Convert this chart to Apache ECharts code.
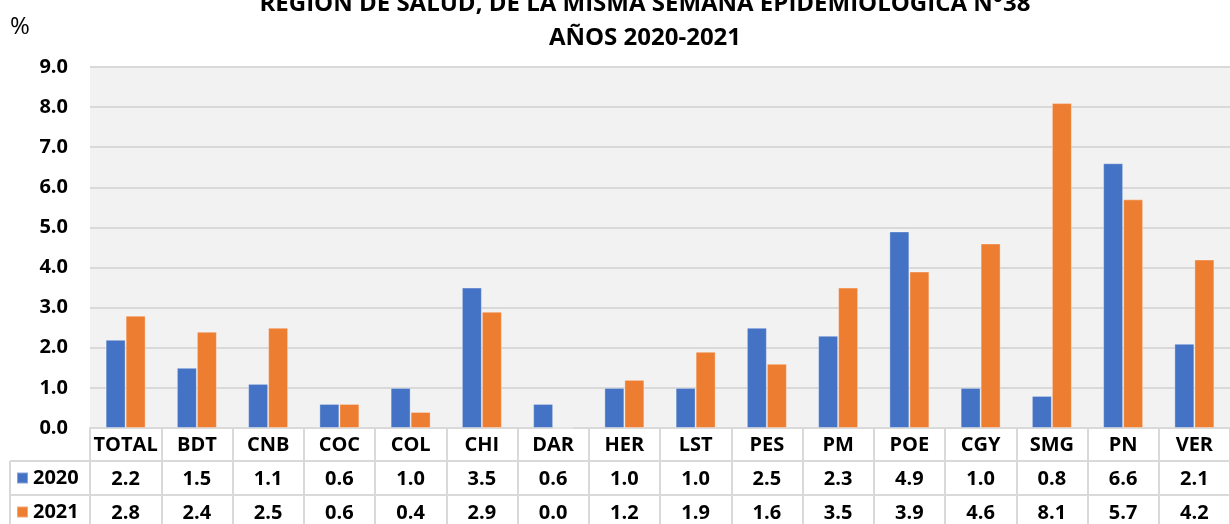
<!DOCTYPE html>
<html>
<head>
<meta charset="utf-8">
<script src="https://cdn.jsdelivr.net/npm/echarts@6/dist/echarts.min.js"></script>
<style>
  html, body { margin: 0; padding: 0; background: #fff; }
  #chart { width: 1230px; height: 524px; }
</style>
</head>
<body>
<div id="chart"></div>
<script>
var regions = ['TOTAL', 'BDT', 'CNB', 'COC', 'COL', 'CHI', 'DAR', 'HER', 'LST', 'PES', 'PM', 'POE', 'CGY', 'SMG', 'PN', 'VER'];
var years = ['2020', '2021'];
var values2020 = [2.2, 1.5, 1.1, 0.6, 1.0, 3.5, 0.6, 1.0, 1.0, 2.5, 2.3, 4.9, 1.0, 0.8, 6.6, 2.1];
var values2021 = [2.8, 2.4, 2.5, 0.6, 0.4, 2.9, 0.0, 1.2, 1.9, 1.6, 3.5, 3.9, 4.6, 8.1, 5.7, 4.2];

var chart_dom = document.getElementById('chart');
var myChart = echarts.init(chart_dom, null, { renderer: 'canvas' });

// plot area + data table geometry
var GRID_LEFT = 90, GRID_TOP = 67, GRID_BOTTOM = 96, ROW_H = 34;
var AXIS_Y = 524 - GRID_BOTTOM;
var lineColor = '#d9d9d9';
var font = 'Open Sans';

var option = {
  textStyle: { fontFamily: font },
  title: {
    text: 'REGIÓN DE SALUD, DE LA MISMA SEMANA EPIDEMIOLÓGICA N°38\nAÑOS 2020-2021',
    left: 640,
    top: -18,
    textAlign: 'center',
    textStyle: { fontSize: 24, fontWeight: 'bold', color: '#000', lineHeight: 34, fontFamily: font }
  },
  legend: {
    data: years,
    orient: 'vertical',
    left: 16,
    top: 468,
    padding: 0,
    itemWidth: 11,
    itemHeight: 11,
    itemGap: 14,
    icon: 'rect',
    textStyle: { fontSize: 20, fontWeight: 'bold', color: '#000', lineHeight: 20 },
    selectedMode: false
  },
  grid: {
    left: GRID_LEFT,
    right: -12,
    top: GRID_TOP,
    bottom: GRID_BOTTOM,
    show: true,
    backgroundColor: '#f2f2f2',
    borderWidth: 0
  },
  xAxis: {
    type: 'category',
    data: regions,
    boundaryGap: true,
    axisLine: { show: true, lineStyle: { color: lineColor, width: 2 } },
    axisTick: { show: true, length: GRID_BOTTOM + 4, lineStyle: { color: lineColor, width: 2 } },
    axisLabel: {
      interval: 0,
      margin: 0,
      color: '#000',
      formatter: function (value, idx) {
        return '{h|' + value + '}\n{v|' + values2020[idx].toFixed(1) + '}\n{v|' + values2021[idx].toFixed(1) + '}';
      },
      rich: {
        h: { fontSize: 20, fontWeight: 'bold', lineHeight: ROW_H, color: '#000', fontFamily: font },
        v: { fontSize: 20, fontWeight: 'bold', lineHeight: ROW_H, color: '#000', fontFamily: font }
      }
    }
  },
  yAxis: {
    type: 'value',
    min: 0,
    max: 9,
    interval: 1,
    name: '%',
    nameLocation: 'end',
    nameGap: 28,
    nameTextStyle: { fontSize: 24, color: '#000', align: 'left', padding: [0, 0, 0, -80] },
    axisLine: { show: false },
    axisTick: { show: false },
    axisLabel: {
      margin: 22,
      fontSize: 20,
      fontWeight: 'bold',
      color: '#000',
      formatter: function (v) { return v.toFixed(1); }
    },
    splitLine: { show: true, lineStyle: { color: lineColor, width: 2 } }
  },
  graphic: [
    { type: 'line', shape: { x1: 10, y1: AXIS_Y + ROW_H - 1, x2: 1242, y2: AXIS_Y + ROW_H - 1 }, style: { stroke: lineColor, lineWidth: 2 } },
    { type: 'line', shape: { x1: 10, y1: AXIS_Y + 2 * ROW_H - 1, x2: 1242, y2: AXIS_Y + 2 * ROW_H - 1 }, style: { stroke: lineColor, lineWidth: 2 } },
    { type: 'line', shape: { x1: 10, y1: AXIS_Y + ROW_H - 1, x2: 10, y2: 524 }, style: { stroke: lineColor, lineWidth: 2 } }
  ],
  series: [
    {
      name: '2020',
      type: 'bar',
      data: values2020,
      barWidth: 20,
      barGap: '0%',
      itemStyle: { color: '#4472c4', borderColor: 'rgba(255,255,255,0.35)', borderWidth: 1 }
    },
    {
      name: '2021',
      type: 'bar',
      data: values2021,
      barWidth: 20,
      itemStyle: { color: '#ed7d31', borderColor: 'rgba(255,255,255,0.35)', borderWidth: 1 }
    }
  ]
};

if (option && typeof option === 'object') {
  myChart.setOption(option);
}
window.addEventListener('resize', myChart.resize);
</script>
</body>
</html>
